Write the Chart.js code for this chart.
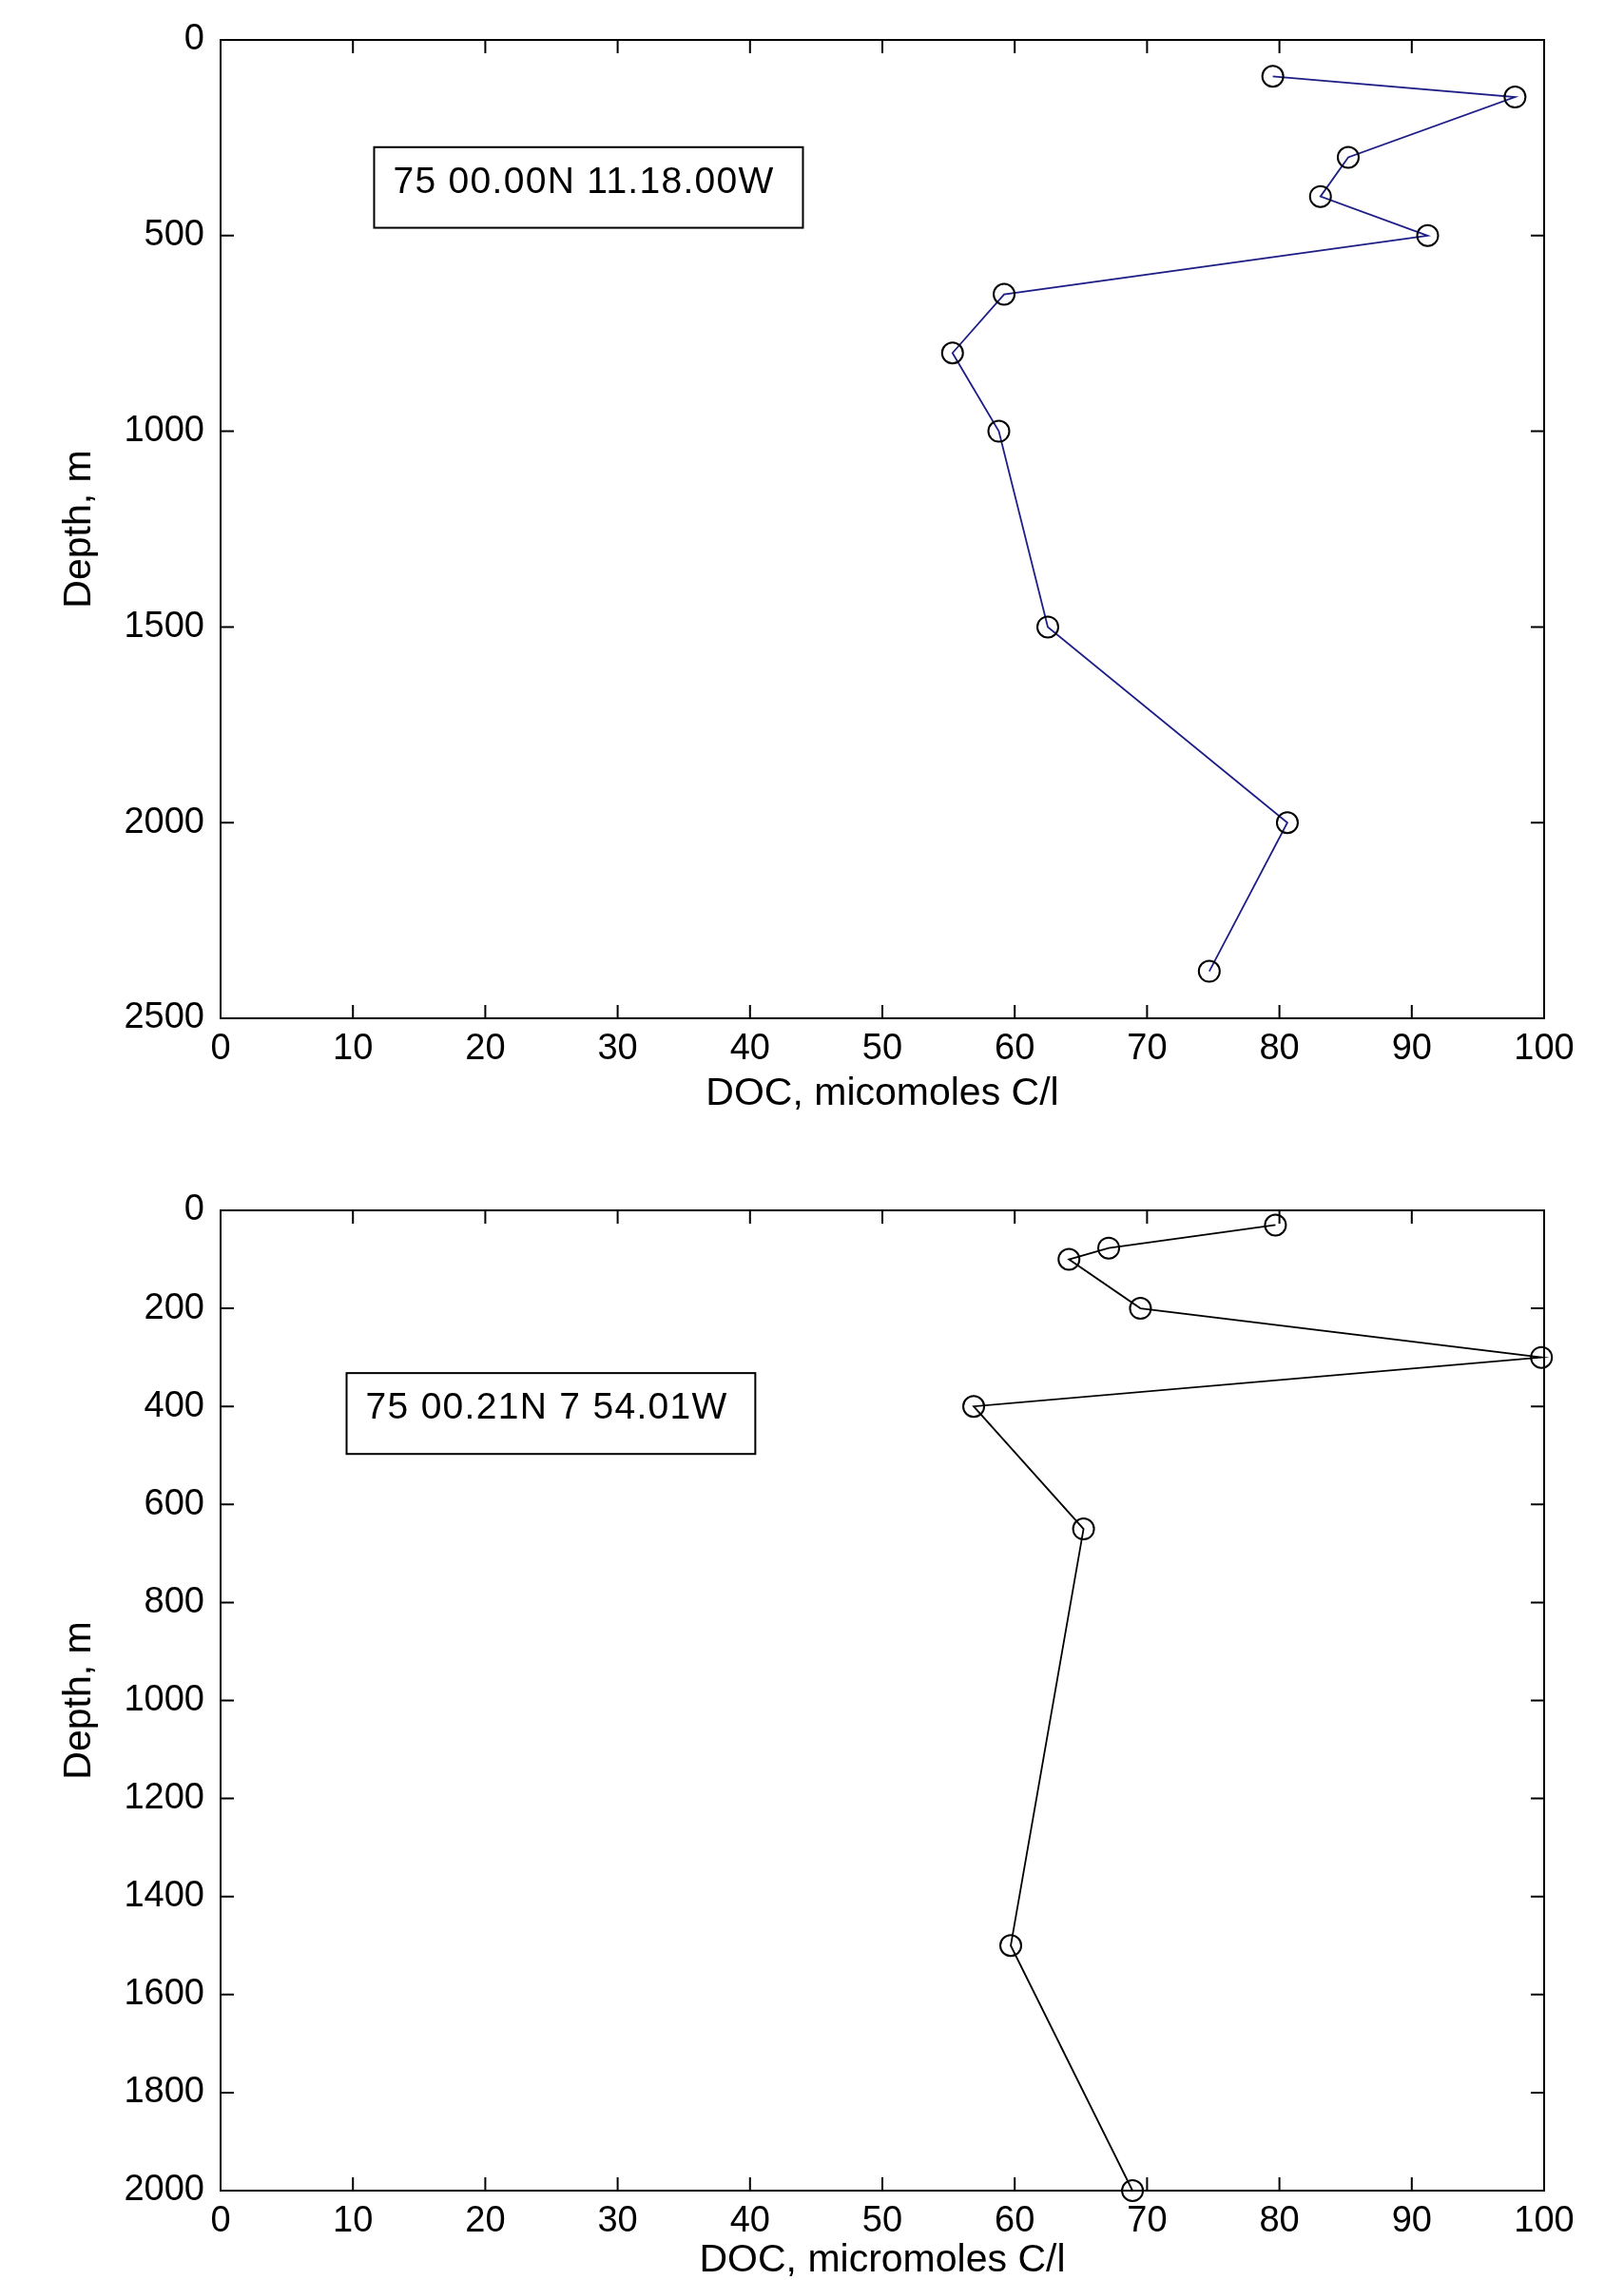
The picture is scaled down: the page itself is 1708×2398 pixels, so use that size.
<!DOCTYPE html>
<html>
<head>
<meta charset="utf-8">
<script src="https://cdn.jsdelivr.net/npm/chart.js@4.4.1/dist/chart.umd.min.js"></script>
<style>
    html, body { margin: 0; padding: 0; background: #ffffff; }
    canvas { display: block; }
</style>
</head>
<body>
<canvas id="perfilA" width="1708" height="1199"></canvas>
<canvas id="perfilB" width="1708" height="1199"></canvas>
<script>
// estacao 75 00.00N 11.18.00W
const profundidadeA = [93, 146, 300, 400, 500, 650, 800, 1000, 1500, 2000, 2380];
const docA = [79.5, 97.8, 85.2, 83.1, 91.2, 59.2, 55.3, 58.8, 62.5, 80.6, 74.7];

// estacao 75 00.21N 7 54.01W
const profundidadeB = [30, 77, 100, 200, 300, 400, 650, 1500, 2000];
const docB = [79.7, 67.1, 64.1, 69.5, 99.8, 56.9, 65.2, 59.7, 68.9];

const ticksDoc = [0, 10, 20, 30, 40, 50, 60, 70, 80, 90, 100];
const ticksProfA = [0, 500, 1000, 1500, 2000, 2500];
const ticksProfB = [0, 200, 400, 600, 800, 1000, 1200, 1400, 1600, 1800, 2000];

const FONTE = "'Liberation Sans', Arial, sans-serif";
Chart.defaults.font.family = FONTE;
Chart.defaults.color = "#000000";

// moldura estilo matlab: caixa fechada com ticks para dentro + caixa de texto
const caixaEixosPlugin = {
    id: "caixaEixos",
    afterDatasetsDraw(chart, args, opts) {
        const { ctx, chartArea: a, scales: { x, y } } = chart;
        const L = 14;

        ctx.save();
        ctx.strokeStyle = "#000000";
        ctx.lineWidth = 2;
        ctx.strokeRect(a.left, a.top, a.right - a.left, a.bottom - a.top);

        ctx.beginPath();
        x.ticks.forEach(t => {
            const px = x.getPixelForValue(t.value);
            ctx.moveTo(px, a.bottom); ctx.lineTo(px, a.bottom - L);
            ctx.moveTo(px, a.top); ctx.lineTo(px, a.top + L);
        });
        y.ticks.forEach(t => {
            const py = y.getPixelForValue(t.value);
            ctx.moveTo(a.left, py); ctx.lineTo(a.left + L, py);
            ctx.moveTo(a.right, py); ctx.lineTo(a.right - L, py);
        });
        ctx.stroke();

        const nota = opts.nota;
        if (nota) {
            const x1 = x.getPixelForValue(nota.x1);
            const x2 = x.getPixelForValue(nota.x2);
            const y1 = y.getPixelForValue(nota.y1);
            const y2 = y.getPixelForValue(nota.y2);
            ctx.fillStyle = "#ffffff";
            ctx.fillRect(x1, y1, x2 - x1, y2 - y1);
            ctx.strokeRect(x1, y1, x2 - x1, y2 - y1);
            ctx.fillStyle = "#000000";
            ctx.font = "39px " + FONTE;
            ctx.letterSpacing = "1.3px";
            ctx.textAlign = "left";
            ctx.textBaseline = "alphabetic";
            ctx.fillText(nota.texto, x1 + 20, y1 + 48);
        }
        ctx.restore();
    }
};

function criarPerfil(id, profundidades, valores, ticksProf, cfg) {
    const ctx = document.getElementById(id).getContext("2d");
    const pontos = valores.map((v, i) => ({ x: v, y: profundidades[i] }));

    return new Chart(ctx, {
        type: "line",
        data: {
            datasets: [{
                data: pontos,
                borderColor: cfg.corLinha,
                borderWidth: 1.8,
                tension: 0,
                fill: false,
                clip: false,
                pointStyle: "circle",
                pointRadius: 11,
                pointBorderWidth: 2,
                pointBorderColor: "#000000",
                pointBackgroundColor: "rgba(0,0,0,0)"
            }]
        },
        plugins: [caixaEixosPlugin],
        options: {
            responsive: false,
            animation: false,
            events: [],
            layout: {
                padding: { top: cfg.topo, right: 84, left: 0, bottom: 0 }
            },
            plugins: {
                legend: { display: false },
                tooltip: { enabled: false },
                caixaEixos: { nota: cfg.nota }
            },
            scales: {
                x: {
                    type: "linear",
                    position: "bottom",
                    min: 0,
                    max: 100,
                    afterBuildTicks: s => { s.ticks = ticksDoc.map(v => ({ value: v })); },
                    afterFit: s => { s.height = cfg.alturaX; },
                    grid: { display: false, drawTicks: false },
                    border: { display: false },
                    ticks: {
                        padding: 10,
                        maxRotation: 0,
                        autoSkip: false,
                        font: { size: 38 },
                        color: "#000000",
                        callback: v => String(v)
                    },
                    title: {
                        display: true,
                        text: cfg.tituloX,
                        font: { size: 41, lineHeight: 1 },
                        color: "#000000",
                        padding: { top: 0, bottom: cfg.padTituloX }
                    }
                },
                y: {
                    type: "linear",
                    position: "left",
                    reverse: true,
                    min: 0,
                    max: ticksProf[ticksProf.length - 1],
                    afterBuildTicks: s => { s.ticks = ticksProf.map(v => ({ value: v })); },
                    afterFit: s => { s.width = 232; },
                    grid: { display: false, drawTicks: false },
                    border: { display: false },
                    ticks: {
                        padding: 17,
                        autoSkip: false,
                        font: { size: 38 },
                        color: "#000000",
                        callback: v => String(v)
                    },
                    title: {
                        display: true,
                        text: "Depth, m",
                        font: { size: 41, lineHeight: 1 },
                        color: "#000000",
                        padding: { top: 63, bottom: 0 }
                    }
                }
            }
        }
    });
}

criarPerfil("perfilA", profundidadeA, docA, ticksProfA, {
    corLinha: "#1e1e86",
    topo: 42,
    alturaX: 128,
    padTituloX: 28,
    tituloX: "DOC, micomoles C/l",
    nota: { texto: "75 00.00N 11.18.00W", x1: 11.6, x2: 44.0, y1: 274, y2: 480 }
});

criarPerfil("perfilB", profundidadeB, docB, ticksProfB, {
    corLinha: "#000000",
    topo: 74,
    alturaX: 94,
    padTituloX: 0,
    tituloX: "DOC, micromoles C/l",
    nota: { texto: "75 00.21N 7 54.01W", x1: 9.52, x2: 40.4, y1: 332, y2: 497 }
});
</script>
</body>
</html>
